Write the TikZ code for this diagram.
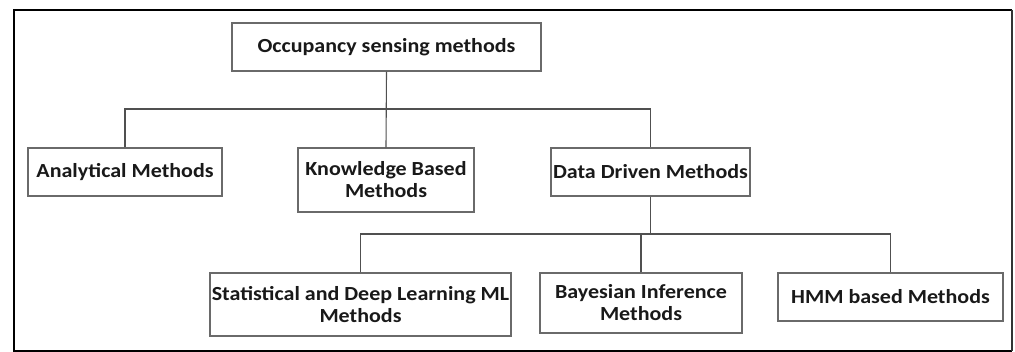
\documentclass[tikz,border=0pt]{standalone}
\usepackage{fontspec}
\setmainfont{Carlito}
\definecolor{linegray}{HTML}{505050}
\definecolor{boxgray}{HTML}{6A6A6A}
\newcommand{\widetxt}[1]{\scalebox{1.1}[1]{#1}}
\begin{document}
\begin{tikzpicture}[x=1pt,y=-1pt,
  box/.style={draw=boxgray, line width=1.1pt, fill=white, inner sep=0pt, align=center,
    font=\fontsize{20}{22}\selectfont\bfseries, text=black!90},
  conn/.style={draw=linegray, line width=1.1pt}]
\useasboundingbox (0,0) rectangle (1015,352);
\fill[white] (0,0) rectangle (1015,352);
% outer frame
\draw[black, line width=2pt] (1012,10) -- (14,10) -- (14,351) -- (1012,351);
\draw[black!80, line width=1.2pt] (1012,10) -- (1012,351);
% nodes
\node[box, minimum width=309pt, minimum height=48pt] (root) at (386.5,47) {\widetxt{Occupancy sensing methods}};
\node[box, minimum width=194pt, minimum height=48pt] (ana) at (125,172) {\widetxt{Analytical Methods}};
\node[box, minimum width=176pt, minimum height=64pt] (know) at (386,180) {\widetxt{Knowledge Based}\\\widetxt{Methods}};
\node[box, minimum width=199pt, minimum height=48pt] (data) at (650.5,172) {\widetxt{Data Driven Methods}};
\node[box, minimum width=301pt, minimum height=63pt] (stat) at (360.5,304.5) {\widetxt{Statistical and Deep Learning ML}\\\widetxt{Methods}};
\node[box, minimum width=202pt, minimum height=60pt] (bayes) at (641,303) {\widetxt{Bayesian Inference}\\\widetxt{Methods}};
\node[box, minimum width=225pt, minimum height=48pt] (hmm) at (890.5,297) {\widetxt{HMM based Methods}};
\coordinate (bus1) at (386.5,109);
\coordinate (bus2) at (650.5,234);
% connectors
\draw[conn] (root.south) -- (know.north);
\draw[conn] (ana.north) |- (data.north |- bus1) -- (data.north);
\draw[conn] (data.south) -- (bus2);
\draw[conn] (stat.north) |- (hmm.north |- bus2) -- (hmm.north);
\draw[conn] (bayes.north) -- (bayes.north |- bus2);
\end{tikzpicture}
\end{document}
